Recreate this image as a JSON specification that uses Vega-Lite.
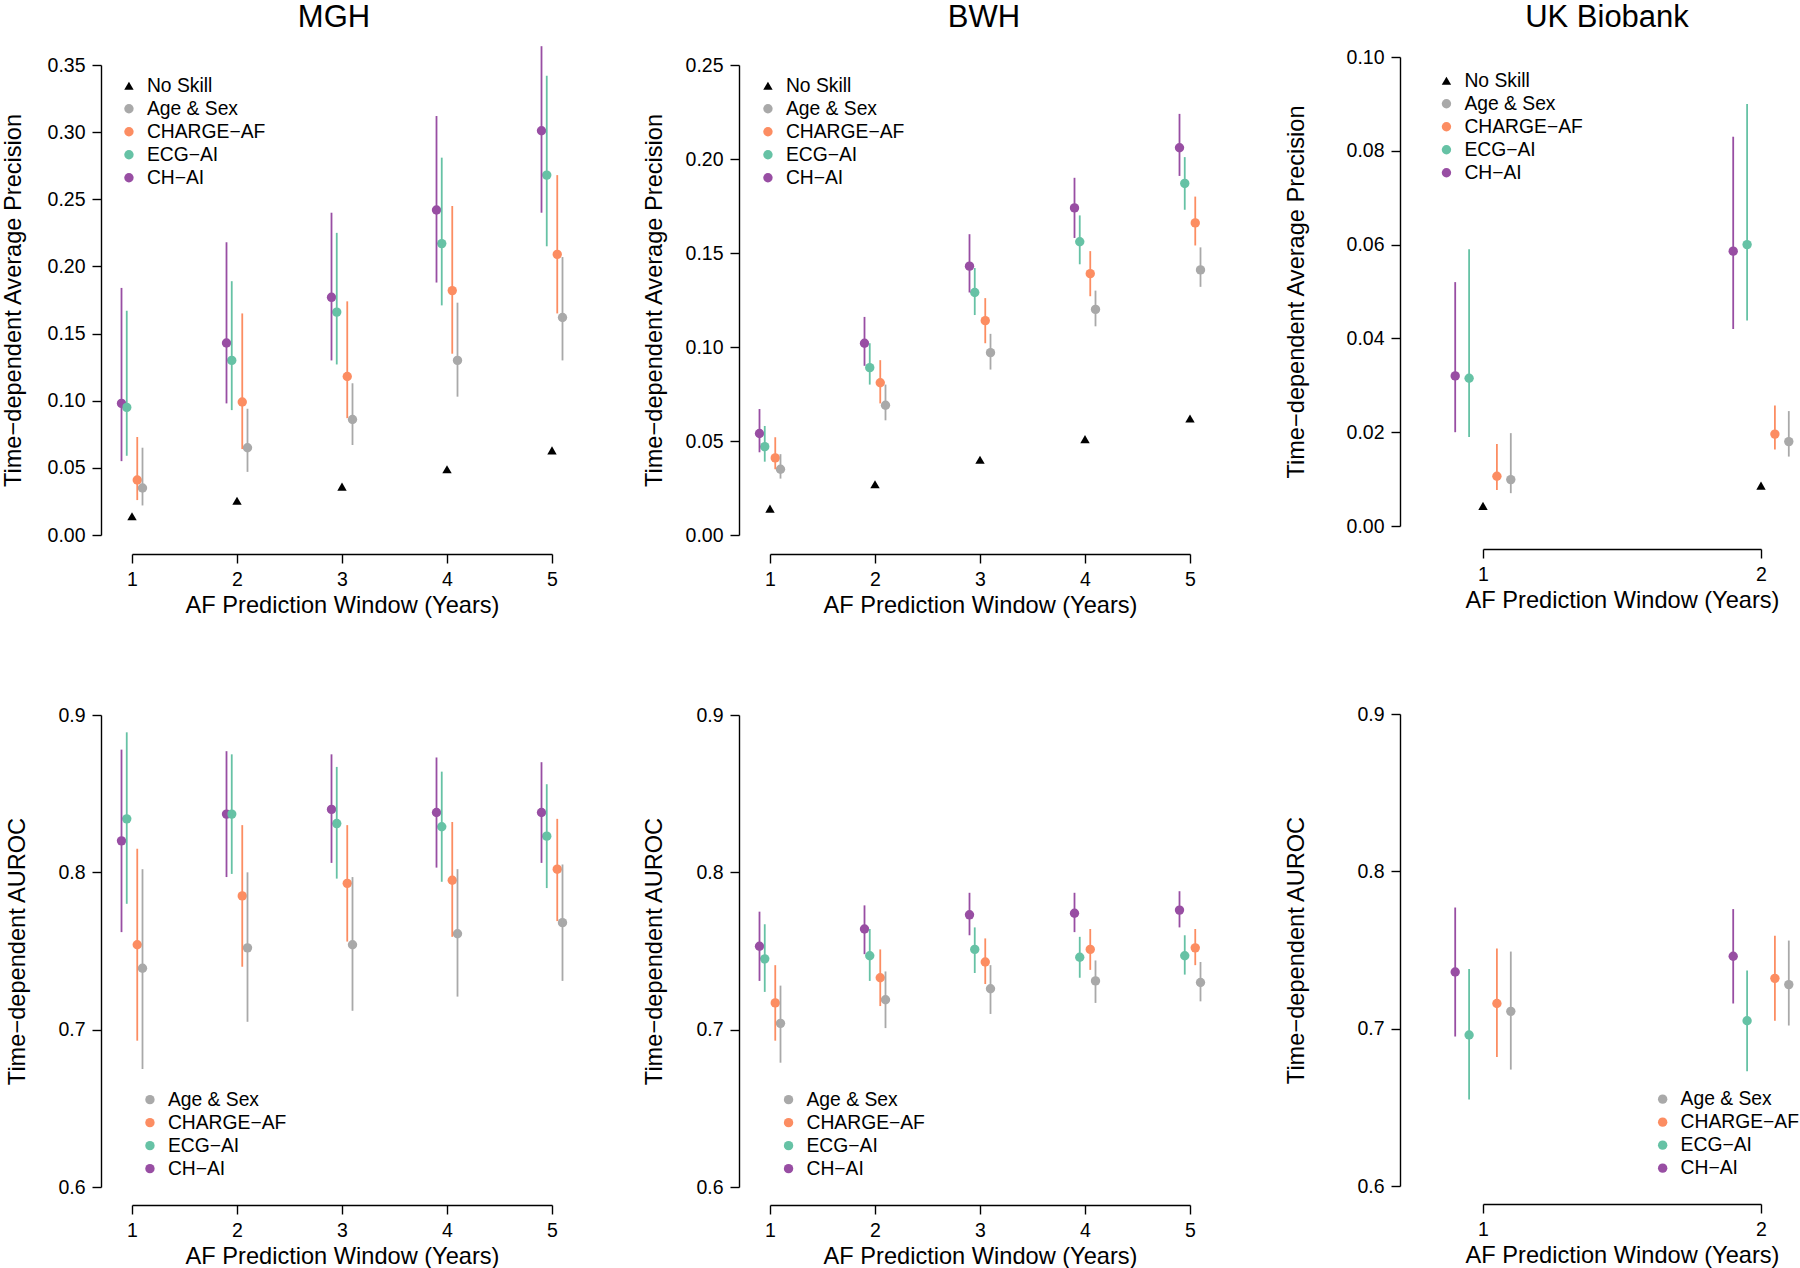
{
"$schema": "https://vega.github.io/schema/vega-lite/v6.json",
"padding": {"top": 2, "left": 0, "right": 0, "bottom": 0},
"background": "white",
"datasets": {
"d": [
{"metric":"AP","site":"MGH","year":1,"model":"CH−AI","value":0.098,"lo":0.055,"hi":0.184},
{"metric":"AP","site":"MGH","year":1,"model":"ECG−AI","value":0.095,"lo":0.059,"hi":0.167},
{"metric":"AP","site":"MGH","year":1,"model":"CHARGE−AF","value":0.041,"lo":0.026,"hi":0.073},
{"metric":"AP","site":"MGH","year":1,"model":"Age & Sex","value":0.035,"lo":0.022,"hi":0.065},
{"metric":"AP","site":"MGH","year":1,"model":"No Skill","value":0.014},
{"metric":"AP","site":"MGH","year":2,"model":"CH−AI","value":0.143,"lo":0.098,"hi":0.218},
{"metric":"AP","site":"MGH","year":2,"model":"ECG−AI","value":0.130,"lo":0.093,"hi":0.189},
{"metric":"AP","site":"MGH","year":2,"model":"CHARGE−AF","value":0.099,"lo":0.064,"hi":0.165},
{"metric":"AP","site":"MGH","year":2,"model":"Age & Sex","value":0.065,"lo":0.047,"hi":0.094},
{"metric":"AP","site":"MGH","year":2,"model":"No Skill","value":0.0255},
{"metric":"AP","site":"MGH","year":3,"model":"CH−AI","value":0.177,"lo":0.130,"hi":0.240},
{"metric":"AP","site":"MGH","year":3,"model":"ECG−AI","value":0.166,"lo":0.127,"hi":0.225},
{"metric":"AP","site":"MGH","year":3,"model":"CHARGE−AF","value":0.118,"lo":0.087,"hi":0.174},
{"metric":"AP","site":"MGH","year":3,"model":"Age & Sex","value":0.086,"lo":0.067,"hi":0.113},
{"metric":"AP","site":"MGH","year":3,"model":"No Skill","value":0.036},
{"metric":"AP","site":"MGH","year":4,"model":"CH−AI","value":0.242,"lo":0.188,"hi":0.312},
{"metric":"AP","site":"MGH","year":4,"model":"ECG−AI","value":0.217,"lo":0.171,"hi":0.281},
{"metric":"AP","site":"MGH","year":4,"model":"CHARGE−AF","value":0.182,"lo":0.135,"hi":0.245},
{"metric":"AP","site":"MGH","year":4,"model":"Age & Sex","value":0.130,"lo":0.103,"hi":0.173},
{"metric":"AP","site":"MGH","year":4,"model":"No Skill","value":0.049},
{"metric":"AP","site":"MGH","year":5,"model":"CH−AI","value":0.301,"lo":0.240,"hi":0.364},
{"metric":"AP","site":"MGH","year":5,"model":"ECG−AI","value":0.268,"lo":0.215,"hi":0.342},
{"metric":"AP","site":"MGH","year":5,"model":"CHARGE−AF","value":0.209,"lo":0.165,"hi":0.268},
{"metric":"AP","site":"MGH","year":5,"model":"Age & Sex","value":0.162,"lo":0.130,"hi":0.207},
{"metric":"AP","site":"MGH","year":5,"model":"No Skill","value":0.063},
{"metric":"AP","site":"BWH","year":1,"model":"CH−AI","value":0.054,"lo":0.044,"hi":0.067},
{"metric":"AP","site":"BWH","year":1,"model":"ECG−AI","value":0.047,"lo":0.039,"hi":0.058},
{"metric":"AP","site":"BWH","year":1,"model":"CHARGE−AF","value":0.041,"lo":0.035,"hi":0.052},
{"metric":"AP","site":"BWH","year":1,"model":"Age & Sex","value":0.035,"lo":0.030,"hi":0.043},
{"metric":"AP","site":"BWH","year":1,"model":"No Skill","value":0.014},
{"metric":"AP","site":"BWH","year":2,"model":"CH−AI","value":0.102,"lo":0.090,"hi":0.116},
{"metric":"AP","site":"BWH","year":2,"model":"ECG−AI","value":0.089,"lo":0.080,"hi":0.102},
{"metric":"AP","site":"BWH","year":2,"model":"CHARGE−AF","value":0.081,"lo":0.070,"hi":0.093},
{"metric":"AP","site":"BWH","year":2,"model":"Age & Sex","value":0.069,"lo":0.061,"hi":0.080},
{"metric":"AP","site":"BWH","year":2,"model":"No Skill","value":0.027},
{"metric":"AP","site":"BWH","year":3,"model":"CH−AI","value":0.143,"lo":0.129,"hi":0.160},
{"metric":"AP","site":"BWH","year":3,"model":"ECG−AI","value":0.129,"lo":0.117,"hi":0.142},
{"metric":"AP","site":"BWH","year":3,"model":"CHARGE−AF","value":0.114,"lo":0.102,"hi":0.126},
{"metric":"AP","site":"BWH","year":3,"model":"Age & Sex","value":0.097,"lo":0.088,"hi":0.107},
{"metric":"AP","site":"BWH","year":3,"model":"No Skill","value":0.040},
{"metric":"AP","site":"BWH","year":4,"model":"CH−AI","value":0.174,"lo":0.158,"hi":0.190},
{"metric":"AP","site":"BWH","year":4,"model":"ECG−AI","value":0.156,"lo":0.144,"hi":0.170},
{"metric":"AP","site":"BWH","year":4,"model":"CHARGE−AF","value":0.139,"lo":0.127,"hi":0.151},
{"metric":"AP","site":"BWH","year":4,"model":"Age & Sex","value":0.120,"lo":0.111,"hi":0.130},
{"metric":"AP","site":"BWH","year":4,"model":"No Skill","value":0.051},
{"metric":"AP","site":"BWH","year":5,"model":"CH−AI","value":0.206,"lo":0.191,"hi":0.224},
{"metric":"AP","site":"BWH","year":5,"model":"ECG−AI","value":0.187,"lo":0.173,"hi":0.201},
{"metric":"AP","site":"BWH","year":5,"model":"CHARGE−AF","value":0.166,"lo":0.154,"hi":0.180},
{"metric":"AP","site":"BWH","year":5,"model":"Age & Sex","value":0.141,"lo":0.132,"hi":0.153},
{"metric":"AP","site":"BWH","year":5,"model":"No Skill","value":0.062},
{"metric":"AP","site":"UK","year":1,"model":"CH−AI","value":0.032,"lo":0.020,"hi":0.052},
{"metric":"AP","site":"UK","year":1,"model":"ECG−AI","value":0.0315,"lo":0.019,"hi":0.059},
{"metric":"AP","site":"UK","year":1,"model":"CHARGE−AF","value":0.0106,"lo":0.0077,"hi":0.0175},
{"metric":"AP","site":"UK","year":1,"model":"Age & Sex","value":0.0099,"lo":0.007,"hi":0.0198},
{"metric":"AP","site":"UK","year":1,"model":"No Skill","value":0.0043},
{"metric":"AP","site":"UK","year":2,"model":"CH−AI","value":0.0586,"lo":0.042,"hi":0.083},
{"metric":"AP","site":"UK","year":2,"model":"ECG−AI","value":0.060,"lo":0.0438,"hi":0.090},
{"metric":"AP","site":"UK","year":2,"model":"CHARGE−AF","value":0.0196,"lo":0.0163,"hi":0.0257},
{"metric":"AP","site":"UK","year":2,"model":"Age & Sex","value":0.018,"lo":0.0148,"hi":0.0245},
{"metric":"AP","site":"UK","year":2,"model":"No Skill","value":0.0086},
{"metric":"AUROC","site":"MGH","year":1,"model":"CH−AI","value":0.820,"lo":0.762,"hi":0.878},
{"metric":"AUROC","site":"MGH","year":1,"model":"ECG−AI","value":0.834,"lo":0.780,"hi":0.889},
{"metric":"AUROC","site":"MGH","year":1,"model":"CHARGE−AF","value":0.754,"lo":0.693,"hi":0.815},
{"metric":"AUROC","site":"MGH","year":1,"model":"Age & Sex","value":0.739,"lo":0.675,"hi":0.802},
{"metric":"AUROC","site":"MGH","year":2,"model":"CH−AI","value":0.837,"lo":0.797,"hi":0.877},
{"metric":"AUROC","site":"MGH","year":2,"model":"ECG−AI","value":0.837,"lo":0.799,"hi":0.875},
{"metric":"AUROC","site":"MGH","year":2,"model":"CHARGE−AF","value":0.785,"lo":0.740,"hi":0.830},
{"metric":"AUROC","site":"MGH","year":2,"model":"Age & Sex","value":0.752,"lo":0.705,"hi":0.800},
{"metric":"AUROC","site":"MGH","year":3,"model":"CH−AI","value":0.840,"lo":0.806,"hi":0.875},
{"metric":"AUROC","site":"MGH","year":3,"model":"ECG−AI","value":0.831,"lo":0.796,"hi":0.867},
{"metric":"AUROC","site":"MGH","year":3,"model":"CHARGE−AF","value":0.793,"lo":0.756,"hi":0.830},
{"metric":"AUROC","site":"MGH","year":3,"model":"Age & Sex","value":0.754,"lo":0.712,"hi":0.797},
{"metric":"AUROC","site":"MGH","year":4,"model":"CH−AI","value":0.838,"lo":0.803,"hi":0.873},
{"metric":"AUROC","site":"MGH","year":4,"model":"ECG−AI","value":0.829,"lo":0.794,"hi":0.864},
{"metric":"AUROC","site":"MGH","year":4,"model":"CHARGE−AF","value":0.795,"lo":0.759,"hi":0.832},
{"metric":"AUROC","site":"MGH","year":4,"model":"Age & Sex","value":0.761,"lo":0.721,"hi":0.802},
{"metric":"AUROC","site":"MGH","year":5,"model":"CH−AI","value":0.838,"lo":0.806,"hi":0.870},
{"metric":"AUROC","site":"MGH","year":5,"model":"ECG−AI","value":0.823,"lo":0.790,"hi":0.856},
{"metric":"AUROC","site":"MGH","year":5,"model":"CHARGE−AF","value":0.802,"lo":0.769,"hi":0.834},
{"metric":"AUROC","site":"MGH","year":5,"model":"Age & Sex","value":0.768,"lo":0.731,"hi":0.805},
{"metric":"AUROC","site":"BWH","year":1,"model":"CH−AI","value":0.753,"lo":0.731,"hi":0.775},
{"metric":"AUROC","site":"BWH","year":1,"model":"ECG−AI","value":0.745,"lo":0.724,"hi":0.767},
{"metric":"AUROC","site":"BWH","year":1,"model":"CHARGE−AF","value":0.717,"lo":0.693,"hi":0.741},
{"metric":"AUROC","site":"BWH","year":1,"model":"Age & Sex","value":0.704,"lo":0.679,"hi":0.728},
{"metric":"AUROC","site":"BWH","year":2,"model":"CH−AI","value":0.764,"lo":0.748,"hi":0.779},
{"metric":"AUROC","site":"BWH","year":2,"model":"ECG−AI","value":0.747,"lo":0.731,"hi":0.764},
{"metric":"AUROC","site":"BWH","year":2,"model":"CHARGE−AF","value":0.733,"lo":0.715,"hi":0.751},
{"metric":"AUROC","site":"BWH","year":2,"model":"Age & Sex","value":0.719,"lo":0.701,"hi":0.737},
{"metric":"AUROC","site":"BWH","year":3,"model":"CH−AI","value":0.773,"lo":0.760,"hi":0.787},
{"metric":"AUROC","site":"BWH","year":3,"model":"ECG−AI","value":0.751,"lo":0.736,"hi":0.765},
{"metric":"AUROC","site":"BWH","year":3,"model":"CHARGE−AF","value":0.743,"lo":0.729,"hi":0.758},
{"metric":"AUROC","site":"BWH","year":3,"model":"Age & Sex","value":0.726,"lo":0.710,"hi":0.741},
{"metric":"AUROC","site":"BWH","year":4,"model":"CH−AI","value":0.774,"lo":0.762,"hi":0.787},
{"metric":"AUROC","site":"BWH","year":4,"model":"ECG−AI","value":0.746,"lo":0.733,"hi":0.759},
{"metric":"AUROC","site":"BWH","year":4,"model":"CHARGE−AF","value":0.751,"lo":0.738,"hi":0.764},
{"metric":"AUROC","site":"BWH","year":4,"model":"Age & Sex","value":0.731,"lo":0.717,"hi":0.744},
{"metric":"AUROC","site":"BWH","year":5,"model":"CH−AI","value":0.776,"lo":0.765,"hi":0.788},
{"metric":"AUROC","site":"BWH","year":5,"model":"ECG−AI","value":0.747,"lo":0.735,"hi":0.760},
{"metric":"AUROC","site":"BWH","year":5,"model":"CHARGE−AF","value":0.752,"lo":0.741,"hi":0.764},
{"metric":"AUROC","site":"BWH","year":5,"model":"Age & Sex","value":0.730,"lo":0.718,"hi":0.743},
{"metric":"AUROC","site":"UK","year":1,"model":"CH−AI","value":0.736,"lo":0.695,"hi":0.777},
{"metric":"AUROC","site":"UK","year":1,"model":"ECG−AI","value":0.696,"lo":0.655,"hi":0.738},
{"metric":"AUROC","site":"UK","year":1,"model":"CHARGE−AF","value":0.716,"lo":0.682,"hi":0.751},
{"metric":"AUROC","site":"UK","year":1,"model":"Age & Sex","value":0.711,"lo":0.674,"hi":0.749},
{"metric":"AUROC","site":"UK","year":2,"model":"CH−AI","value":0.746,"lo":0.716,"hi":0.776},
{"metric":"AUROC","site":"UK","year":2,"model":"ECG−AI","value":0.705,"lo":0.673,"hi":0.737},
{"metric":"AUROC","site":"UK","year":2,"model":"CHARGE−AF","value":0.732,"lo":0.705,"hi":0.759},
{"metric":"AUROC","site":"UK","year":2,"model":"Age & Sex","value":0.728,"lo":0.702,"hi":0.756}
]
},
"data": {"name": "d"},
"columns": 3,
"spacing": {"row": 147, "column": 0},
"bounds": "flush",
"resolve": {"scale": {"color": "independent", "shape": "independent", "xOffset": "independent", "x": "independent", "y": "independent"}, "legend": {"color": "independent", "shape": "independent"}, "axis": {"x": "independent", "y": "independent"}},
"concat": [
{
"width": 638, "height": 513,
"title": {"text": "MGH", "dx": -86},
"transform": [{"filter": "datum.site === 'MGH' && datum.metric === 'AP'"}],
"layer": [
{"mark": {"type": "point", "filled": true, "opacity": 1, "size": 88, "strokeWidth": 0},
"encoding": {
"x": {"field": "year", "type": "ordinal", "scale": {"type": "point", "domain": [1,2,3,4,5], "range": [31,451], "padding": 0}, "axis": {"title": "AF Prediction Window (Years)"}},
"xOffset": {"field": "model", "type": "nominal", "scale": {"type": "point", "domain": ["CH−AI","ECG−AI","No Skill","CHARGE−AF","Age & Sex"], "range": [-10.5, 10.5], "padding": 0}},
"y": {"field": "value", "type": "quantitative", "scale": {"domain": [0, 0.35], "range": [494, 24], "nice": false, "zero": false}, "axis": {"title": "Time−dependent Average Precision", "values": [0,0.05,0.1,0.15,0.2,0.25,0.3,0.35], "format": ".2f", "titleX": -81}},
"color": {"field": "model", "type": "nominal", "scale": {"domain": ["No Skill","Age & Sex","CHARGE−AF","ECG−AI","CH−AI"], "range": ["#000000","#A9A9A9","#FC8D62","#66C2A5","#984EA3"]}, "legend": {"orient": "none", "legendX": 18.3, "legendY": 35.1, "title": null}},
"shape": {"field": "model", "type": "nominal", "scale": {"domain": ["No Skill","Age & Sex","CHARGE−AF","ECG−AI","CH−AI"], "range": ["triangle-up","circle","circle","circle","circle"]}, "legend": {"orient": "none", "legendX": 18.3, "legendY": 35.1, "title": null}}
}},
{"transform": [{"filter": "isValid(datum.lo)"}],
"mark": {"type": "rule", "strokeWidth": 1.8},
"encoding": {
"x": {"field": "year", "type": "ordinal", "scale": {"type": "point", "domain": [1,2,3,4,5], "range": [31,451], "padding": 0}, "axis": {"title": "AF Prediction Window (Years)"}},
"xOffset": {"field": "model", "type": "nominal", "scale": {"type": "point", "domain": ["CH−AI","ECG−AI","No Skill","CHARGE−AF","Age & Sex"], "range": [-10.5, 10.5], "padding": 0}},
"y": {"field": "lo", "type": "quantitative", "axis": {"title": "Time−dependent Average Precision", "values": [0,0.05,0.1,0.15,0.2,0.25,0.3,0.35], "format": ".2f", "titleX": -81}},
"y2": {"field": "hi"},
"color": {"field": "model", "type": "nominal", "legend": null}
}}
]
},
{
"width": 661, "height": 513,
"title": {"text": "BWH", "dx": -85.5},
"transform": [{"filter": "datum.site === 'BWH' && datum.metric === 'AP'"}],
"layer": [
{"mark": {"type": "point", "filled": true, "opacity": 1, "size": 88, "strokeWidth": 0},
"encoding": {
"x": {"field": "year", "type": "ordinal", "scale": {"type": "point", "domain": [1,2,3,4,5], "range": [31,451], "padding": 0}, "axis": {"title": "AF Prediction Window (Years)"}},
"xOffset": {"field": "model", "type": "nominal", "scale": {"type": "point", "domain": ["CH−AI","ECG−AI","No Skill","CHARGE−AF","Age & Sex"], "range": [-10.5, 10.5], "padding": 0}},
"y": {"field": "value", "type": "quantitative", "scale": {"domain": [0, 0.25], "range": [494, 24], "nice": false, "zero": false}, "axis": {"title": "Time−dependent Average Precision", "values": [0,0.05,0.1,0.15,0.2,0.25], "format": ".2f", "titleX": -77.8}},
"color": {"field": "model", "type": "nominal", "scale": {"domain": ["No Skill","Age & Sex","CHARGE−AF","ECG−AI","CH−AI"], "range": ["#000000","#A9A9A9","#FC8D62","#66C2A5","#984EA3"]}, "legend": {"orient": "none", "legendX": 19.3, "legendY": 35.1, "title": null}},
"shape": {"field": "model", "type": "nominal", "scale": {"domain": ["No Skill","Age & Sex","CHARGE−AF","ECG−AI","CH−AI"], "range": ["triangle-up","circle","circle","circle","circle"]}, "legend": {"orient": "none", "legendX": 19.3, "legendY": 35.1, "title": null}}
}},
{"transform": [{"filter": "isValid(datum.lo)"}],
"mark": {"type": "rule", "strokeWidth": 1.8},
"encoding": {
"x": {"field": "year", "type": "ordinal", "scale": {"type": "point", "domain": [1,2,3,4,5], "range": [31,451], "padding": 0}, "axis": {"title": "AF Prediction Window (Years)"}},
"xOffset": {"field": "model", "type": "nominal", "scale": {"type": "point", "domain": ["CH−AI","ECG−AI","No Skill","CHARGE−AF","Age & Sex"], "range": [-10.5, 10.5], "padding": 0}},
"y": {"field": "lo", "type": "quantitative", "axis": {"title": "Time−dependent Average Precision", "values": [0,0.05,0.1,0.15,0.2,0.25], "format": ".2f", "titleX": -77.8}},
"y2": {"field": "hi"},
"color": {"field": "model", "type": "nominal", "legend": null}
}}
]
},
{
"width": 402, "height": 508,
"title": {"text": "UK Biobank", "dx": 6},
"transform": [{"filter": "datum.site === 'UK' && datum.metric === 'AP'"}],
"layer": [
{"mark": {"type": "point", "filled": true, "opacity": 1, "size": 88, "strokeWidth": 0},
"encoding": {
"x": {"field": "year", "type": "ordinal", "scale": {"type": "point", "domain": [1,2], "range": [83,361], "padding": 0}, "axis": {"title": "AF Prediction Window (Years)"}},
"xOffset": {"field": "model", "type": "nominal", "scale": {"type": "point", "domain": ["CH−AI","ECG−AI","No Skill","CHARGE−AF","Age & Sex"], "range": [-27.8, 27.8], "padding": 0}},
"y": {"field": "value", "type": "quantitative", "scale": {"domain": [0, 0.1], "range": [485, 16], "nice": false, "zero": false}, "axis": {"title": "Time−dependent Average Precision", "values": [0,0.02,0.04,0.06,0.08,0.1], "format": ".2f", "titleX": -96.3}},
"color": {"field": "model", "type": "nominal", "scale": {"domain": ["No Skill","Age & Sex","CHARGE−AF","ECG−AI","CH−AI"], "range": ["#000000","#A9A9A9","#FC8D62","#66C2A5","#984EA3"]}, "legend": {"orient": "none", "legendX": 36.8, "legendY": 30.1, "title": null}},
"shape": {"field": "model", "type": "nominal", "scale": {"domain": ["No Skill","Age & Sex","CHARGE−AF","ECG−AI","CH−AI"], "range": ["triangle-up","circle","circle","circle","circle"]}, "legend": {"orient": "none", "legendX": 36.8, "legendY": 30.1, "title": null}}
}},
{"transform": [{"filter": "isValid(datum.lo)"}],
"mark": {"type": "rule", "strokeWidth": 1.8},
"encoding": {
"x": {"field": "year", "type": "ordinal", "scale": {"type": "point", "domain": [1,2], "range": [83,361], "padding": 0}, "axis": {"title": "AF Prediction Window (Years)"}},
"xOffset": {"field": "model", "type": "nominal", "scale": {"type": "point", "domain": ["CH−AI","ECG−AI","No Skill","CHARGE−AF","Age & Sex"], "range": [-27.8, 27.8], "padding": 0}},
"y": {"field": "lo", "type": "quantitative", "axis": {"title": "Time−dependent Average Precision", "values": [0,0.02,0.04,0.06,0.08,0.1], "format": ".2f", "titleX": -96.3}},
"y2": {"field": "hi"},
"color": {"field": "model", "type": "nominal", "legend": null}
}}
]
},
{
"width": 638, "height": 504,
"transform": [{"filter": "datum.site === 'MGH' && datum.metric === 'AUROC'"}],
"layer": [
{"mark": {"type": "point", "filled": true, "opacity": 1, "size": 88, "strokeWidth": 0},
"encoding": {
"x": {"field": "year", "type": "ordinal", "scale": {"type": "point", "domain": [1,2,3,4,5], "range": [31,451], "padding": 0}, "axis": {"title": "AF Prediction Window (Years)"}},
"xOffset": {"field": "model", "type": "nominal", "scale": {"type": "point", "domain": ["CH−AI","ECG−AI","No Skill","CHARGE−AF","Age & Sex"], "range": [-10.5, 10.5], "padding": 0}},
"y": {"field": "value", "type": "quantitative", "scale": {"domain": [0.6, 0.9], "range": [486, 14], "nice": false, "zero": false}, "axis": {"title": "Time−dependent AUROC", "values": [0.6,0.7,0.8,0.9], "format": ".1f", "titleX": -76.3}},
"color": {"field": "model", "type": "nominal", "scale": {"domain": ["Age & Sex","CHARGE−AF","ECG−AI","CH−AI"], "range": ["#A9A9A9","#FC8D62","#66C2A5","#984EA3"]}, "legend": {"orient": "none", "legendX": 39.3, "legendY": 389, "title": null}},
"shape": {"field": "model", "type": "nominal", "scale": {"domain": ["Age & Sex","CHARGE−AF","ECG−AI","CH−AI"], "range": ["circle","circle","circle","circle"]}, "legend": {"orient": "none", "legendX": 39.3, "legendY": 389, "title": null}}
}},
{"transform": [{"filter": "isValid(datum.lo)"}],
"mark": {"type": "rule", "strokeWidth": 1.8},
"encoding": {
"x": {"field": "year", "type": "ordinal", "scale": {"type": "point", "domain": [1,2,3,4,5], "range": [31,451], "padding": 0}, "axis": {"title": "AF Prediction Window (Years)"}},
"xOffset": {"field": "model", "type": "nominal", "scale": {"type": "point", "domain": ["CH−AI","ECG−AI","No Skill","CHARGE−AF","Age & Sex"], "range": [-10.5, 10.5], "padding": 0}},
"y": {"field": "lo", "type": "quantitative", "axis": {"title": "Time−dependent AUROC", "values": [0.6,0.7,0.8,0.9], "format": ".1f", "titleX": -76.3}},
"y2": {"field": "hi"},
"color": {"field": "model", "type": "nominal", "legend": null}
}}
]
},
{
"width": 661, "height": 504,
"transform": [{"filter": "datum.site === 'BWH' && datum.metric === 'AUROC'"}],
"layer": [
{"mark": {"type": "point", "filled": true, "opacity": 1, "size": 88, "strokeWidth": 0},
"encoding": {
"x": {"field": "year", "type": "ordinal", "scale": {"type": "point", "domain": [1,2,3,4,5], "range": [31,451], "padding": 0}, "axis": {"title": "AF Prediction Window (Years)"}},
"xOffset": {"field": "model", "type": "nominal", "scale": {"type": "point", "domain": ["CH−AI","ECG−AI","No Skill","CHARGE−AF","Age & Sex"], "range": [-10.5, 10.5], "padding": 0}},
"y": {"field": "value", "type": "quantitative", "scale": {"domain": [0.6, 0.9], "range": [486, 14], "nice": false, "zero": false}, "axis": {"title": "Time−dependent AUROC", "values": [0.6,0.7,0.8,0.9], "format": ".1f", "titleX": -77.1}},
"color": {"field": "model", "type": "nominal", "scale": {"domain": ["Age & Sex","CHARGE−AF","ECG−AI","CH−AI"], "range": ["#A9A9A9","#FC8D62","#66C2A5","#984EA3"]}, "legend": {"orient": "none", "legendX": 39.9, "legendY": 389, "title": null}},
"shape": {"field": "model", "type": "nominal", "scale": {"domain": ["Age & Sex","CHARGE−AF","ECG−AI","CH−AI"], "range": ["circle","circle","circle","circle"]}, "legend": {"orient": "none", "legendX": 39.9, "legendY": 389, "title": null}}
}},
{"transform": [{"filter": "isValid(datum.lo)"}],
"mark": {"type": "rule", "strokeWidth": 1.8},
"encoding": {
"x": {"field": "year", "type": "ordinal", "scale": {"type": "point", "domain": [1,2,3,4,5], "range": [31,451], "padding": 0}, "axis": {"title": "AF Prediction Window (Years)"}},
"xOffset": {"field": "model", "type": "nominal", "scale": {"type": "point", "domain": ["CH−AI","ECG−AI","No Skill","CHARGE−AF","Age & Sex"], "range": [-10.5, 10.5], "padding": 0}},
"y": {"field": "lo", "type": "quantitative", "axis": {"title": "Time−dependent AUROC", "values": [0.6,0.7,0.8,0.9], "format": ".1f", "titleX": -77.1}},
"y2": {"field": "hi"},
"color": {"field": "model", "type": "nominal", "legend": null}
}}
]
},
{
"width": 402, "height": 503,
"transform": [{"filter": "datum.site === 'UK' && datum.metric === 'AUROC'"}],
"layer": [
{"mark": {"type": "point", "filled": true, "opacity": 1, "size": 88, "strokeWidth": 0},
"encoding": {
"x": {"field": "year", "type": "ordinal", "scale": {"type": "point", "domain": [1,2], "range": [83,361], "padding": 0}, "axis": {"title": "AF Prediction Window (Years)"}},
"xOffset": {"field": "model", "type": "nominal", "scale": {"type": "point", "domain": ["CH−AI","ECG−AI","No Skill","CHARGE−AF","Age & Sex"], "range": [-27.8, 27.8], "padding": 0}},
"y": {"field": "value", "type": "quantitative", "scale": {"domain": [0.6, 0.9], "range": [485, 13], "nice": false, "zero": false}, "axis": {"title": "Time−dependent AUROC", "values": [0.6,0.7,0.8,0.9], "format": ".1f", "titleX": -96.2}},
"color": {"field": "model", "type": "nominal", "scale": {"domain": ["Age & Sex","CHARGE−AF","ECG−AI","CH−AI"], "range": ["#A9A9A9","#FC8D62","#66C2A5","#984EA3"]}, "legend": {"orient": "none", "legendX": 253, "legendY": 388.5, "title": null}},
"shape": {"field": "model", "type": "nominal", "scale": {"domain": ["Age & Sex","CHARGE−AF","ECG−AI","CH−AI"], "range": ["circle","circle","circle","circle"]}, "legend": {"orient": "none", "legendX": 253, "legendY": 388.5, "title": null}}
}},
{"transform": [{"filter": "isValid(datum.lo)"}],
"mark": {"type": "rule", "strokeWidth": 1.8},
"encoding": {
"x": {"field": "year", "type": "ordinal", "scale": {"type": "point", "domain": [1,2], "range": [83,361], "padding": 0}, "axis": {"title": "AF Prediction Window (Years)"}},
"xOffset": {"field": "model", "type": "nominal", "scale": {"type": "point", "domain": ["CH−AI","ECG−AI","No Skill","CHARGE−AF","Age & Sex"], "range": [-27.8, 27.8], "padding": 0}},
"y": {"field": "lo", "type": "quantitative", "axis": {"title": "Time−dependent AUROC", "values": [0.6,0.7,0.8,0.9], "format": ".1f", "titleX": -96.2}},
"y2": {"field": "hi"},
"color": {"field": "model", "type": "nominal", "legend": null}
}}
]
}
],
"config": {
"font": "Liberation Sans",
"view": {"stroke": null},
"axis": {"domainColor": "black", "domainWidth": 1.4, "tickColor": "black", "tickWidth": 1.4, "tickSize": 9, "labelColor": "black", "labelFontSize": 19.5, "labelPadding": 7, "titleColor": "black", "titleFontSize": 23.6, "titleFontWeight": "normal", "grid": false, "labelFlush": false, "labelOverlap": false, "titleBaseline": "alphabetic"},
"axisX": {"titleY": 58, "labelAngle": 0},
"axisY": {"titleAngle": 270},
"legend": {"labelFontSize": 19.3, "labelColor": "black", "symbolSize": 88, "labelOffset": 8.3, "rowPadding": 3.0, "padding": 0, "symbolStrokeWidth": 0},
"title": {"fontSize": 31, "fontWeight": "normal", "color": "black", "frame": "group", "anchor": "middle", "baseline": "alphabetic", "offset": 7}
}
}
